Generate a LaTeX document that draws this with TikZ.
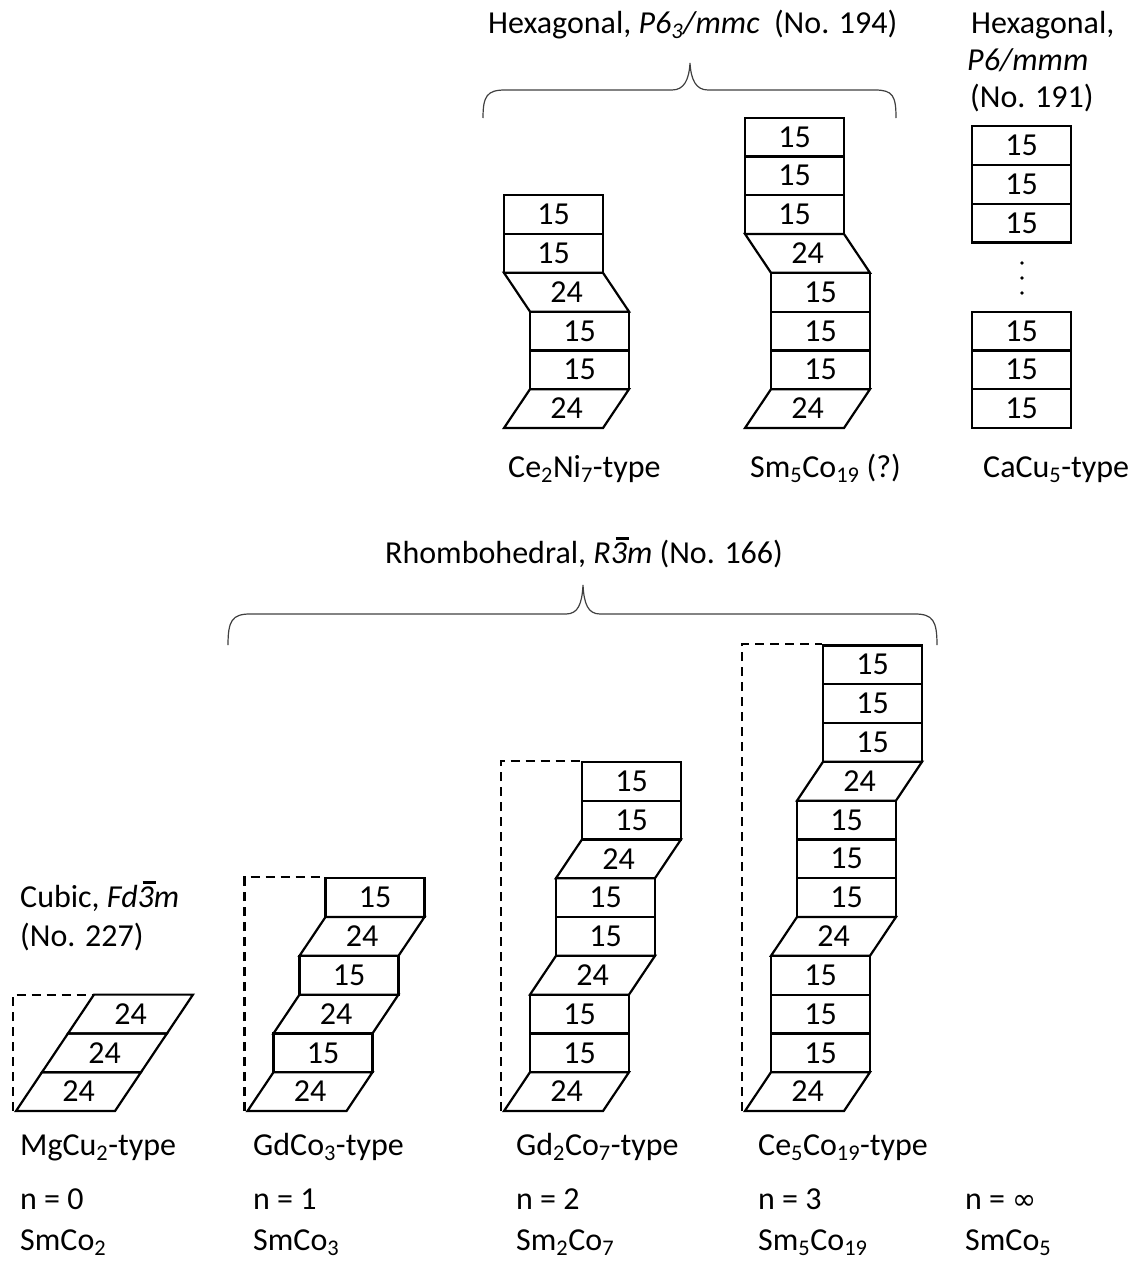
\documentclass[tikz,border=0pt]{standalone}
\usepackage{fontspec}
\setmainfont{Carlito}
\newfontfamily\djv{DejaVu Sans}
\usetikzlibrary{calc}
\newcommand\obar[1]{\makebox[0pt][l]{\hspace{0.15em}\rule[0.71em]{0.42em}{0.09em}}#1}
\newcommand\para[5]{%
  \draw[lay] (#2,#4) -- ({#2+99},#4) -- ({#3+99},{#4-38.8}) -- (#3,{#4-38.8}) -- cycle;
  \node (#1) at ({(#2+#3)/2+49.5},{#4-19.4}) {#5};}
\begin{document}
\begin{tikzpicture}[x=1pt,y=-1pt,
  every node/.style={font=\fontsize{32}{38}\selectfont, inner sep=0pt},
  sq/.style={draw, line width=2.2pt, minimum width=99pt, minimum height=38.8pt},
  lay/.style={draw, line width=2.2pt},
  dsh/.style={line width=2.2pt, dash pattern=on 9pt off 6pt},
  brc/.style={line width=1.2pt, draw=black!75},
  txt/.style={anchor=base west}]
\useasboundingbox (0,0) rectangle (1142,1261);

% ---------- upper: Ce2Ni7-type ----------
\para{a1}{504}{530}{428}{24}
\node[sq] (a2) at (579.5,369.8) {15};
\node[sq] (a3) at (579.5,331) {15};
\para{a4}{530}{504}{311.6}{24}
\node[sq] (a5) at (553.5,253.4) {15};
\node[sq] (a6) at (553.5,214.6) {15};

% ---------- upper: Sm5Co19 ----------
\para{b1}{745}{771}{428}{24}
\node[sq] (b2) at (820.5,369.8) {15};
\node[sq] (b3) at (820.5,331) {15};
\node[sq] (b4) at (820.5,292.2) {15};
\para{b5}{771}{745}{272.8}{24}
\node[sq] (b6) at (794.5,214.6) {15};
\node[sq] (b7) at (794.5,175.8) {15};
\node[sq] (b8) at (794.5,137) {15};

% ---------- upper: CaCu5 ----------
\node[sq] (c1) at (1021.5,408.6) {15};
\node[sq] (c2) at (1021.5,369.8) {15};
\node[sq] (c3) at (1021.5,331) {15};
\node[sq] (c4) at (1021.5,223) {15};
\node[sq] (c5) at (1021.5,184.2) {15};
\node[sq] (c6) at (1021.5,145.4) {15};
\foreach \yy in {263,278,293} \fill (1022,\yy) circle (1.8pt);

% ---------- lower: MgCu2 ----------
\para{d1}{16}{42}{1111}{24}
\para{d2}{42}{68}{1072.2}{24}
\para{d3}{68}{94}{1033.4}{24}
\coordinate (dtop) at (94,994.6);
\draw[dsh] (13,1111) |- (dtop);

% ---------- lower: GdCo3 ----------
\para{e1}{247.5}{273.5}{1111}{24}
\node[sq] (e2) at (323,1052.8) {15};
\para{e3}{273.5}{299.5}{1033.4}{24}
\node[sq] (e4) at (349,975.2) {15};
\para{e5}{299.5}{325.5}{955.8}{24}
\node[sq] (e6) at (375,897.6) {15};
\draw[dsh] (244.5,1111) |- (e6.north west);

% ---------- lower: Gd2Co7 ----------
\para{f1}{504}{530}{1111}{24}
\node[sq] (f2) at (579.5,1052.8) {15};
\node[sq] (f3) at (579.5,1014) {15};
\para{f4}{530}{556}{994.6}{24}
\node[sq] (f5) at (605.5,936.4) {15};
\node[sq] (f6) at (605.5,897.6) {15};
\para{f7}{556}{582}{878.2}{24}
\node[sq] (f8) at (631.5,820) {15};
\node[sq] (f9) at (631.5,781.2) {15};
\draw[dsh] (501,1111) |- (f9.north west);

% ---------- lower: Ce5Co19 ----------
\para{g1}{745}{771}{1111}{24}
\node[sq] (g2) at (820.5,1052.8) {15};
\node[sq] (g3) at (820.5,1014) {15};
\node[sq] (g4) at (820.5,975.2) {15};
\para{g5}{771}{797}{955.8}{24}
\node[sq] (g6) at (846.5,897.6) {15};
\node[sq] (g7) at (846.5,858.8) {15};
\node[sq] (g8) at (846.5,820) {15};
\para{g9}{797}{823}{800.6}{24}
\node[sq] (g10) at (872.5,742.4) {15};
\node[sq] (g11) at (872.5,703.6) {15};
\node[sq] (g12) at (872.5,664.8) {15};
\draw[dsh] (742,1111) |- (g12.north west);

% ---------- braces ----------
\draw[brc] (483,118) .. controls (483,96) and (487,90) .. (505,90) -- (672,90)
  .. controls (684,90) and (689,80) .. (690,63)
  .. controls (691,80) and (696,90) .. (708,90) -- (875,90)
  .. controls (893,90) and (896,96) .. (896,118);
\draw[brc] (228,645) .. controls (228,621) and (232,614) .. (250,614) -- (566,614)
  .. controls (578,614) and (582,604) .. (583,585)
  .. controls (584,604) and (588,614) .. (600,614) -- (915,614)
  .. controls (933,614) and (937,621) .. (937,645);

% ---------- texts ----------
\node[txt] (t1) at (488,33) {Hexagonal, \textit{P6\textsubscript{3}/mmc}\ \ (No. 194)};
\node[txt] (t2) at (971,33) {Hexagonal,};
\node[txt] (t3) at (967,70) {\textit{P6/mmm}};
\node[txt] (t4) at (970,107) {(No. 191)};
\node[txt] (t5) at (508,477) {Ce\textsubscript{2}Ni\textsubscript{7}-type};
\node[txt] (t6) at (750,477) {Sm\textsubscript{5}Co\textsubscript{19} (?)};
\node[txt] (t7) at (983,477) {CaCu\textsubscript{5}-type};
\node[txt] (t8) at (385,563) {Rhombohedral, \textit{R\obar{3}m} (No. 166)};
\node[txt] (t9) at (20,907) {Cubic, \textit{Fd\obar{3}m}};
\node[txt] (t10) at (20,946) {(No. 227)};

\node[txt] (l1) at (20,1155) {MgCu\textsubscript{2}-type};
\node[txt] (l2) at (253,1155) {GdCo\textsubscript{3}-type};
\node[txt] (l3) at (516,1155) {Gd\textsubscript{2}Co\textsubscript{7}-type};
\node[txt] (l4) at (758,1155) {Ce\textsubscript{5}Co\textsubscript{19}-type};

\node[txt] (n1) at (20,1209) {n = 0};
\node[txt] (n2) at (253,1209) {n = 1};
\node[txt] (n3) at (516,1209) {n = 2};
\node[txt] (n4) at (758,1209) {n = 3};
\node[txt] (n5) at (965,1209) {n = {\djv\fontsize{29}{34}\selectfont ∞}};

\node[txt] (s1) at (20,1250) {SmCo\textsubscript{2}};
\node[txt] (s2) at (253,1250) {SmCo\textsubscript{3}};
\node[txt] (s3) at (516,1250) {Sm\textsubscript{2}Co\textsubscript{7}};
\node[txt] (s4) at (758,1250) {Sm\textsubscript{5}Co\textsubscript{19}};
\node[txt] (s5) at (965,1250) {SmCo\textsubscript{5}};
\end{tikzpicture}
\end{document}
